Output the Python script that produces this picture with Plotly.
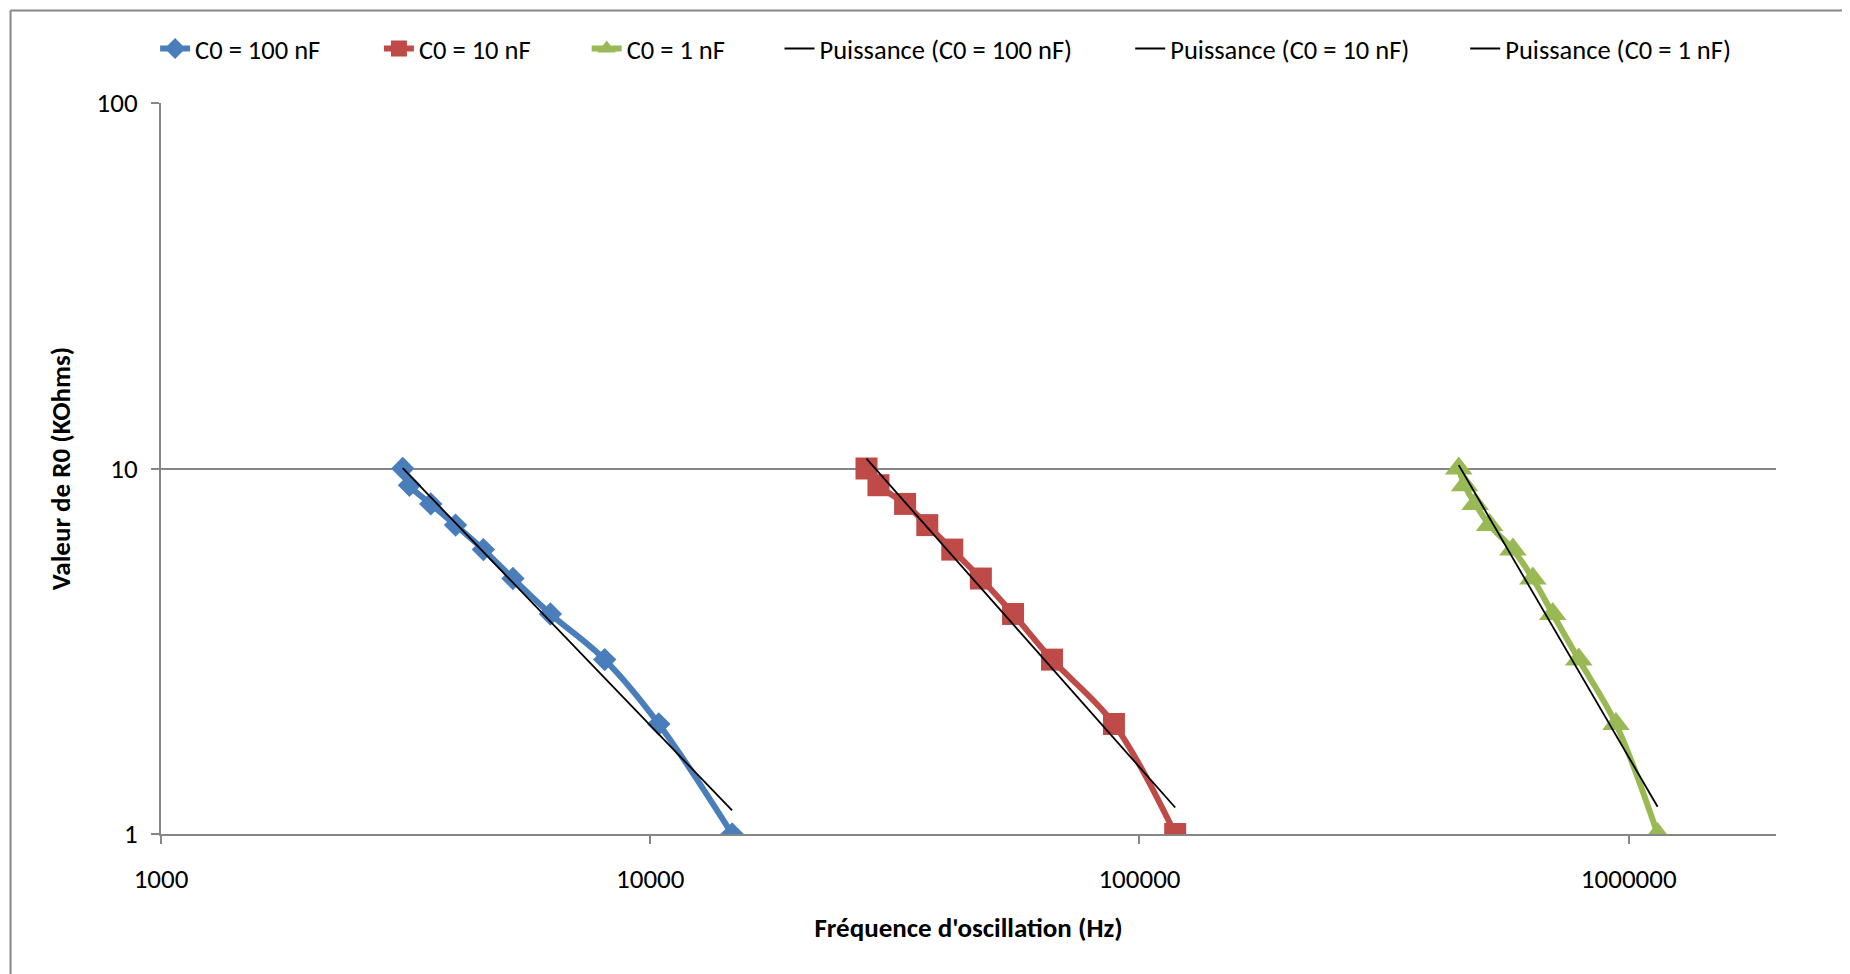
import numpy as np
import plotly.graph_objects as go

# ---- data ----
r0_kohm = [10, 9, 8, 7, 6, 5, 4, 3, 2, 1]
freq_100nF = [3120, 3220, 3560, 4000, 4560, 5240, 6250, 8070, 10410, 14700]
freq_10nF = [27670, 29270, 33180, 36840, 41430, 47400, 55150, 66260, 88670, 118300]
freq_1nF = [449300, 461900, 485500, 519500, 579800, 636800, 699300, 790500, 941700, 1145500]

series_names = ["C0 = 100 nF", "C0 = 10 nF", "C0 = 1 nF"]
trend_names = ["Puissance (C0 = 100 nF)", "Puissance (C0 = 10 nF)", "Puissance (C0 = 1 nF)"]
x_tick_vals = [1000, 10000, 100000, 1000000]
x_tick_text = ["1000", "10000", "100000", "1000000"]
y_tick_vals = [1, 10, 100]
y_tick_text = ["1", "10", "100"]

# ---- styles ----
colors = ["#4A7EBB", "#BE4B48", "#98B954"]
symbols = ["diamond", "square", "triangle-up"]
msizes = [18, 22, 24]
FONT = "Carlito, Calibri, Lato, sans-serif"
GRAY = "#868686"
FS = 26.5

# page offset of the figure (body margin)
OFF = 8
W, H = 1842, 966
ML, MR, MT, MB = 152.5, 74, 94.7, 139.5
pw = W - ML - MR
ph = H - MT - MB

# legend text start positions (page px) for each entry
legend_text_x = [194.6, 418.5, 626.3, 819.2, 1170, 1505.1]
legend_center_y = 48.4
TEXT_OFFSET = 40

fig = go.Figure()
all_freqs = [freq_100nF, freq_10nF, freq_1nF]
k = 0
for f, name, c, s, ms in zip(all_freqs, series_names, colors, symbols, msizes):
    k += 1
    fig.add_trace(go.Scatter(
        x=f, y=r0_kohm, name=name, mode="lines+markers",
        line=dict(color=c, width=6, shape="spline", smoothing=1.0),
        marker=dict(symbol=s, size=ms, color=c),
        legend="legend" if k == 1 else f"legend{k}",
    ))

# power-law trend lines (least squares in log-log space, like Excel "Puissance")
for f, name in zip(all_freqs, trend_names):
    k += 1
    lx = np.log10(np.array(f, dtype=float))
    ly = np.log10(np.array(r0_kohm, dtype=float))
    b, a = np.polyfit(lx, ly, 1)
    xs = np.logspace(lx.min(), lx.max(), 20)
    ys = 10 ** (a + b * np.log10(xs))
    fig.add_trace(go.Scatter(
        x=xs, y=ys, name=name, mode="lines",
        line=dict(color="black", width=1.8),
        legend=f"legend{k}",
    ))

# chart-area border (left and top edges visible)
bx = (10 - OFF - ML) / pw
by = (H - MB - (10 - OFF)) / ph
fig.add_shape(type="line", xref="paper", yref="paper", x0=bx, x1=bx, y0=by, y1=-1,
              line=dict(color=GRAY, width=2))
fig.add_shape(type="line", xref="paper", yref="paper", x0=bx, x1=2, y0=by, y1=by,
              line=dict(color=GRAY, width=2))

legends = {}
for i, tx in enumerate(legend_text_x):
    key = "legend" if i == 0 else f"legend{i + 1}"
    legends[key] = dict(
        orientation="h",
        x=(tx - OFF - TEXT_OFFSET - ML) / pw, xanchor="left",
        y=(H - MB - (legend_center_y - OFF)) / ph, yanchor="middle",
        font=dict(family=FONT, size=FS, color="black"),
        bgcolor="rgba(0,0,0,0)",
    )

fig.update_layout(
    width=W, height=H,
    margin=dict(l=ML, r=MR, t=MT, b=MB, pad=0),
    paper_bgcolor="white", plot_bgcolor="white",
    font=dict(family=FONT, size=FS, color="black"),
    showlegend=True,
    **legends,
    xaxis=dict(
        type="log", range=[3, np.log10(2e6)],
        tickmode="array", tickvals=x_tick_vals, ticktext=x_tick_text,
        showgrid=False, zeroline=False,
        showline=True, linecolor=GRAY, linewidth=2,
        ticks="outside", ticklen=8, tickwidth=2, tickcolor=GRAY,
        tickfont=dict(family=FONT, size=27, color="black"),
        ticklabelstandoff=12,
        title=dict(text="<b>Fréquence d'oscillation (Hz)</b>",
                   font=dict(family=FONT, size=27, color="black"), standoff=24),
    ),
    yaxis=dict(
        type="log", range=[0, 2],
        tickmode="array", tickvals=y_tick_vals, ticktext=y_tick_text,
        showgrid=True, gridcolor=GRAY, gridwidth=2, zeroline=False,
        showline=True, linecolor=GRAY, linewidth=2,
        ticks="outside", ticklen=8, tickwidth=2, tickcolor=GRAY,
        tickfont=dict(family=FONT, size=27, color="black"),
        ticklabelstandoff=8,
        title=dict(text="<b>Valeur de R0 (KOhms)</b>",
                   font=dict(family=FONT, size=27, color="black"), standoff=18),
    ),
)

fig.write_html("out.html")
